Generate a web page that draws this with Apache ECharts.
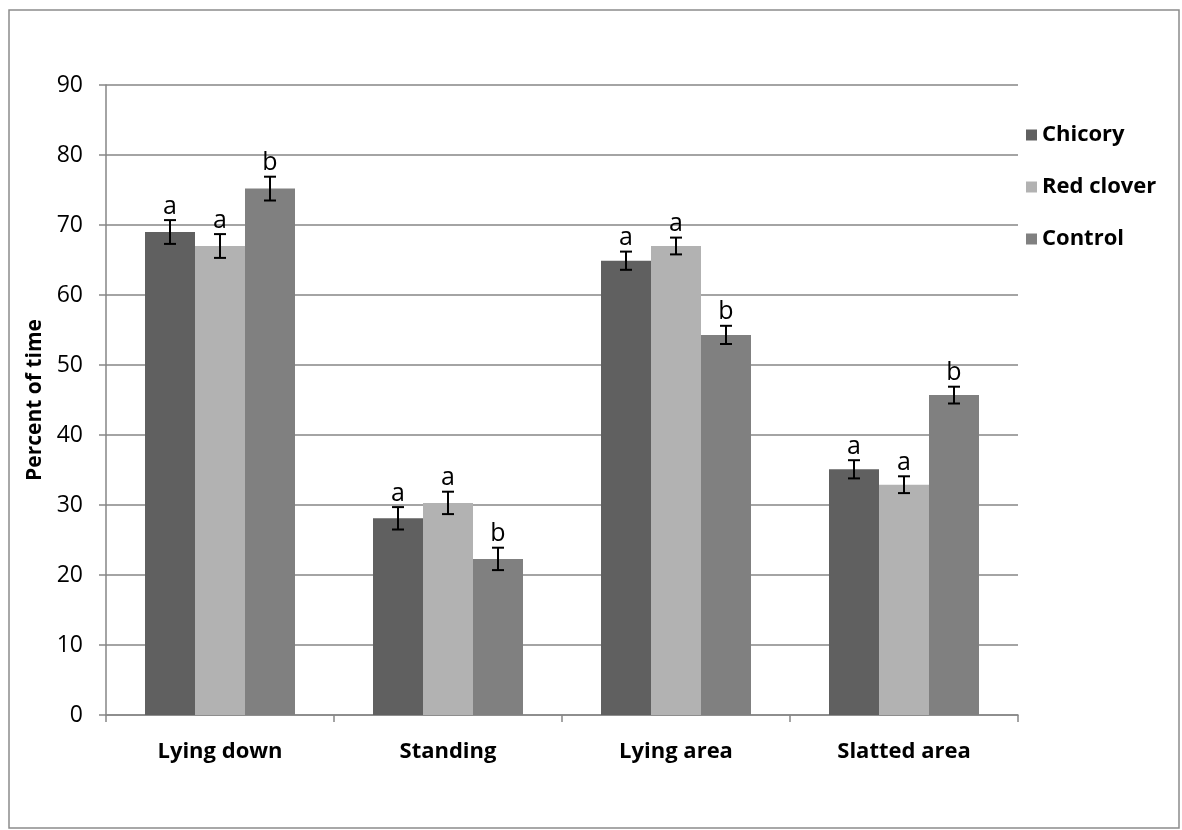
<!DOCTYPE html>
<html>
<head>
<meta charset="utf-8">
<script src="https://cdn.jsdelivr.net/npm/echarts@6/dist/echarts.min.js"></script>
<style>
  html, body { margin: 0; padding: 0; background: #fff; }
  #chart { width: 1182px; height: 830px; }
</style>
</head>
<body>
<div id="chart"></div>
<script>
// Behaviour categories
const categories = ['Lying down', 'Standing', 'Lying area', 'Slatted area'];
const seriesNames = ['Chicory', 'Red clover', 'Control'];

// Mean percent of time per treatment
const chicory = [69.0, 28.1, 64.9, 35.1];
const redClover = [67.0, 30.3, 67.0, 32.9];
const control = [75.2, 22.3, 54.3, 45.7];

// Standard errors
const chicoryErr = [1.7, 1.6, 1.3, 1.3];
const redCloverErr = [1.7, 1.6, 1.2, 1.2];
const controlErr = [1.7, 1.6, 1.3, 1.2];

// Significance letters
const chicoryLetters = ['a', 'a', 'a', 'a'];
const redCloverLetters = ['a', 'a', 'a', 'a'];
const controlLetters = ['b', 'b', 'b', 'b'];

// Y-axis ticks
const yMin = 0, yMax = 90, yStep = 10;

const colors = ['#606060', '#b2b2b2', '#808080'];
const means = [chicory, redClover, control];
const errs = [chicoryErr, redCloverErr, controlErr];
const letters = [chicoryLetters, redCloverLetters, controlLetters];

const FONT = '"Open Sans", "Liberation Sans", sans-serif';
const BAR_W = 50;

const chart = echarts.init(document.getElementById('chart'));

const barSeries = seriesNames.map((name, i) => ({
  name: name,
  type: 'bar',
  data: means[i],
  barWidth: BAR_W,
  barGap: '0%',
  itemStyle: { color: colors[i] },
  emphasis: { disabled: true },
  z: 2
}));

const errSeries = seriesNames.map((name, i) => ({
  type: 'custom',
  name: name + ' error',
  z: 5,
  silent: true,
  data: categories.map((c, k) => [k, means[i][k], errs[i][k]]),
  renderItem: function (params, api) {
    const k = api.value(0);
    const m = api.value(1);
    const e = api.value(2);
    const letter = letters[i][params.dataIndex];
    const top = api.coord([k, m + e]);
    const bot = api.coord([k, m - e]);
    const x = top[0] + (i - 1) * BAR_W;
    const cap = 6;
    const st = { stroke: '#000', lineWidth: 2 };
    return {
      type: 'group',
      children: [
        { type: 'line', shape: { x1: x, y1: top[1], x2: x, y2: bot[1] }, style: st },
        { type: 'line', shape: { x1: x - cap, y1: top[1], x2: x + cap, y2: top[1] }, style: st },
        { type: 'line', shape: { x1: x - cap, y1: bot[1], x2: x + cap, y2: bot[1] }, style: st },
        {
          type: 'text',
          style: {
            x: x, y: top[1] - 1,
            text: letter,
            align: 'center', verticalAlign: 'bottom',
            font: '25px ' + FONT,
            fill: '#000'
          }
        }
      ]
    };
  }
}));

chart.setOption({
  animation: false,
  backgroundColor: '#fff',
  graphic: [{
    type: 'rect',
    shape: { x: 9, y: 10, width: 1170, height: 818 },
    style: { fill: 'none', stroke: '#8c8c8c', lineWidth: 1.5 },
    silent: true
  }],
  grid: { left: 106, right: 164, top: 85, bottom: 115 },
  legend: {
    orient: 'vertical',
    left: 1021,
    top: 119,
    itemWidth: 11,
    itemHeight: 11,
    itemGap: 30,
    icon: 'rect',
    data: seriesNames,
    textStyle: { fontFamily: FONT, fontSize: 22, fontWeight: 'bold', color: '#000' }
  },
  xAxis: {
    type: 'category',
    data: categories,
    axisLine: { lineStyle: { color: '#868686', width: 1.5 } },
    axisTick: { show: true, length: 7, lineStyle: { color: '#868686', width: 1.5 } },
    axisLabel: { fontFamily: FONT, fontSize: 22, fontWeight: 'bold', color: '#000', margin: 26 }
  },
  yAxis: {
    type: 'value',
    min: yMin, max: yMax, interval: yStep,
    name: 'Percent of time',
    nameLocation: 'middle',
    nameGap: 60,
    nameTextStyle: { fontFamily: FONT, fontSize: 21, fontWeight: 'bold', color: '#000' },
    axisLine: { show: true, lineStyle: { color: '#868686', width: 1.5 } },
    axisTick: { show: true, length: 7, lineStyle: { color: '#868686', width: 1.5 } },
    axisLabel: { fontFamily: FONT, fontSize: 23, color: '#000', margin: 23 },
    splitLine: { lineStyle: { color: '#868686', width: 1.5 } }
  },
  series: barSeries.concat(errSeries)
});
</script>
</body>
</html>
